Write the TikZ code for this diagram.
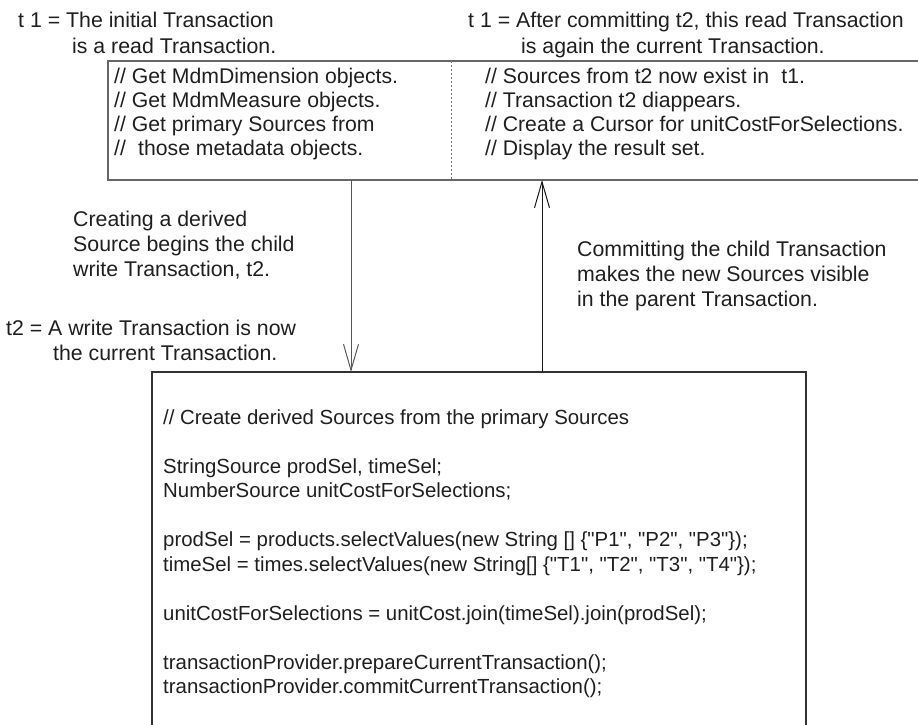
\documentclass[tikz,border=0pt]{standalone}
\usepackage{fontspec}
\setmainfont{Liberation Sans}[Ligatures=TeXOff]
\usetikzlibrary{arrows.meta}
\begin{document}
\begin{tikzpicture}[x=1pt,y=-1pt,
  lbl/.style={anchor=base west, inner sep=0pt, font=\fontsize{21.3}{25}\selectfont, text=black!88},
  boxtxt/.style={anchor=base west, inner sep=0pt, font=\fontsize{21.2}{25}\selectfont, text=black!88},
  codetxt/.style={anchor=base west, inner sep=0pt, font=\fontsize{20.4}{24.5}\selectfont, text=black!88},
  frametop/.style={draw=black!60, line width=1.3pt},
  framebot/.style={draw=black!80, line width=1.1pt},
  divider/.style={draw=black!55, line width=0.6pt, dash pattern=on 2pt off 2pt},
  arr/.style={-{Straight Barb[length=26pt,width=15pt]}, line width=1pt}
]
\useasboundingbox (0,0) rectangle (918,725);

% top labels
\node[lbl] (l1a) at (18,28) {t 1 = The initial Transaction};
\node[lbl] (l1b) at (72,53) {is a read Transaction.};
\node[lbl] (r1a) at (468,28) {t 1 = After committing t2, this read Transaction};
\node[lbl] (r1b) at (521,53) {is again the current Transaction.};

% top box (open at right)
\draw[frametop] (918,61) -- (108,61) -- (108,180) -- (918,180);
\draw[divider] (451,61) -- (451,180);

\node[boxtxt] (ta1) at (114,83) {// Get MdmDimension objects.};
\node[boxtxt] (ta2) at (114,107) {// Get MdmMeasure objects.};
\node[boxtxt] (ta3) at (114,131) {// Get primary Sources from};
\node[boxtxt] (ta4) at (114,155) {//\hspace{0.3em} those metadata objects.};

\node[boxtxt] (tb1) at (485,83) {// Sources from t2 now exist in\hspace{0.3em} t1.};
\node[boxtxt] (tb2) at (485,107) {// Transaction t2 diappears.};
\node[boxtxt] (tb3) at (485,131) {// Create a Cursor for unitCostForSelections.};
\node[boxtxt] (tb4) at (485,155) {// Display the result set.};

% middle labels
\node[lbl] (c1) at (73,226) {Creating a derived};
\node[lbl] (c2) at (73,251) {Source begins the child};
\node[lbl] (c3) at (73,276) {write Transaction, t2.};

\node[lbl] (w1) at (6,335) {t2 = A write Transaction is now};
\node[lbl] (w2) at (53,360) {the current Transaction.};

\node[lbl] (m1) at (577,256) {Committing the child Transaction};
\node[lbl] (m2) at (577,281) {makes the new Sources visible};
\node[lbl] (m3) at (577,306) {in the parent Transaction.};

% bottom box (open at bottom)
\draw[framebot] (152,730) -- (152,372) -- (806,372) -- (806,730);

\node[codetxt] (k1) at (163,424) {// Create derived Sources from the primary Sources};
\node[codetxt] (k2) at (163,473) {StringSource prodSel, timeSel;};
\node[codetxt] (k3) at (163,497.5) {NumberSource unitCostForSelections;};
\node[codetxt] (k4) at (163,546.5) {prodSel = products.selectValues(new String [] \{"P1", "P2", "P3"\});};
\node[codetxt] (k5) at (163,571) {timeSel = times.selectValues(new String[] \{"T1", "T2", "T3", "T4"\});};
\node[codetxt] (k6) at (163,620) {unitCostForSelections = unitCost.join(timeSel).join(prodSel);};
\node[codetxt] (k7) at (163,669) {transactionProvider.prepareCurrentTransaction();};
\node[codetxt] (k8) at (163,693.5) {transactionProvider.commitCurrentTransaction();};

% connectors
\coordinate (downS) at (351,180);
\coordinate (downE) at (351,372);
\coordinate (upS) at (542,372);
\coordinate (upE) at (542,180);
\draw[arr, draw=black!65] (downS) -- (downE);
\draw[arr, draw=black!90] (upS) -- (upE);
\end{tikzpicture}
\end{document}
